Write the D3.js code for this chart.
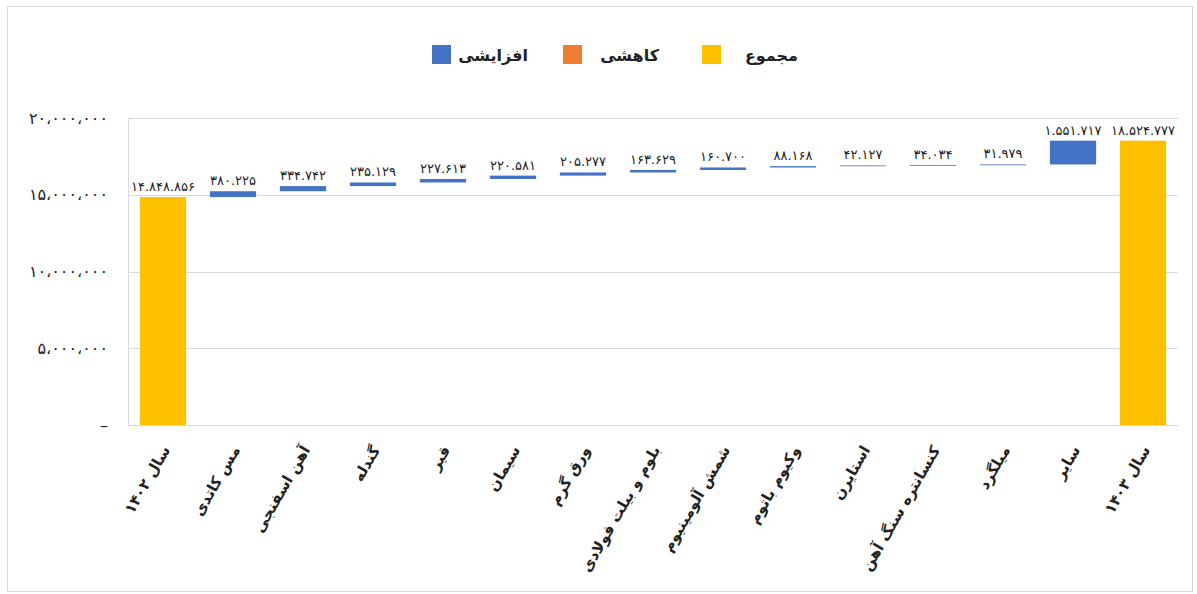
<!DOCTYPE html>
<html><head><meta charset="utf-8">
<script src="https://cdn.jsdelivr.net/npm/d3@7"></script>
<style>
html,body{margin:0;padding:0;background:#fff;}
svg{display:block;}
text{font-family:"DejaVu Sans","Noto Sans",sans-serif;fill:#222;}
</style></head>
<body>
<svg id="chart" width="1197" height="594"></svg>
<script>
const categories = ["سال ۱۴۰۲","مس کاتدی","آهن اسفنجی","گندله","قیر","سیمان","ورق گرم","بلوم و بیلت فولادی","شمش آلومینیوم","وکیوم باتوم","استایرن","کنسانتره سنگ آهن","میلگرد","سایر","سال ۱۴۰۳"];
const values = [14848856,380225,334742,235129,227613,220581,205277,163629,160700,88168,42127,34034,31979,1551717,18524777];
const types = ["total","inc","inc","inc","inc","inc","inc","inc","inc","inc","inc","inc","inc","inc","total"];
const yTicks = [0,5000000,10000000,15000000,20000000];
const legendLabels = ["مجموع","کاهشی","افزایشی"];
const legendKeys = ["total","dec","inc"];

const colors = {total:"#FFC000", dec:"#ED7D31", inc:"#4472C4"};
const fa = s => String(s).replace(/[0-9]/g, d => "۰۱۲۳۴۵۶۷۸۹"[+d]);
const fmtAxis = v => v === 0 ? "–" : fa(d3.format(",")(v)).replace(/,/g, "،");
const fmtLabel = v => fa(d3.format(",")(v)).replace(/,/g, ".");

const svg = d3.select("#chart");
svg.append("rect").attr("x",7.5).attr("y",6.5).attr("width",1185).attr("height",585)
  .attr("fill","#fff").attr("stroke","#D9D9D9");

const m = {left:128, right:1178, top:118, bottom:425};
const x = d3.scaleBand().domain(categories).range([m.left, m.right]).paddingInner(0.34).paddingOuter(0.17);
const y = d3.scaleLinear().domain([0,20000000]).range([m.bottom, m.top]);

// compute waterfall
let cum = 0;
const bars = categories.map((c,i) => {
  let y0, y1;
  if (types[i] === "total") { y0 = 0; y1 = values[i]; cum = values[i]; }
  else { y0 = cum; y1 = cum + values[i]; cum = y1; }
  return {c, v: values[i], t: types[i], y0, y1};
});

// gridlines
const grid = svg.append("g");
grid.selectAll("line").data(yTicks.filter(t=>t>0)).join("line")
  .attr("x1", m.left).attr("x2", m.right)
  .attr("y1", d => Math.round(y(d))+0.5).attr("y2", d => Math.round(y(d))+0.5)
  .attr("stroke","#D9D9D9").attr("stroke-width",1);
svg.append("line").attr("x1",m.left+0.5).attr("x2",m.left+0.5).attr("y1",m.top).attr("y2",m.bottom)
  .attr("stroke","#D9D9D9");
svg.append("line").attr("x1",m.left).attr("x2",m.right).attr("y1",m.bottom+0.5).attr("y2",m.bottom+0.5)
  .attr("stroke","#D9D9D9");

// y axis
const yAxis = d3.axisLeft(y).tickValues(yTicks).tickFormat(fmtAxis).tickSize(0).tickPadding(20);
const ya = svg.append("g").attr("transform",`translate(${m.left},0)`).call(yAxis);
ya.select(".domain").remove();
ya.selectAll("text").style("font-size","16px").attr("fill","#333");

// bars
svg.append("g").selectAll("rect").data(bars).join("rect")
  .attr("x", d => x(d.c)).attr("width", x.bandwidth())
  .attr("y", d => y(d.y1)).attr("height", d => Math.max(y(d.y0)-y(d.y1), 0.8))
  .attr("fill", d => colors[d.t]);

// data labels
svg.append("g").selectAll("text").data(bars).join("text")
  .attr("x", d => x(d.c) + x.bandwidth()/2)
  .attr("y", d => y(d.y1) - 6)
  .attr("text-anchor","middle")
  .style("font-size","13px").attr("fill","#404040")
  .text(d => fmtLabel(d.v));

// x labels
const xa = svg.append("g");
xa.selectAll("text").data(categories).join("text")
  .attr("transform", d => `translate(${x(d)+x.bandwidth()/2+3},${m.bottom+22}) rotate(-60)`)
  .attr("text-anchor","end")
  .attr("dy","0.35em")
  .style("font-size","15px").style("font-weight","bold").attr("fill","#222")
  .text(d => d);

// legend
const legendX = [702, 563, 432];
const lg = svg.append("g");
legendKeys.forEach((k,i) => {
  lg.append("rect").attr("x",legendX[i]).attr("y",45).attr("width",19).attr("height",19).attr("fill",colors[k]);
  lg.append("text").attr("x",legendX[i]+96).attr("y",55).attr("dy","0.35em")
    .attr("text-anchor","end").style("font-size","16px").style("font-weight","bold").attr("fill","#222")
    .text(legendLabels[i]);
});
</script>
</body></html>
